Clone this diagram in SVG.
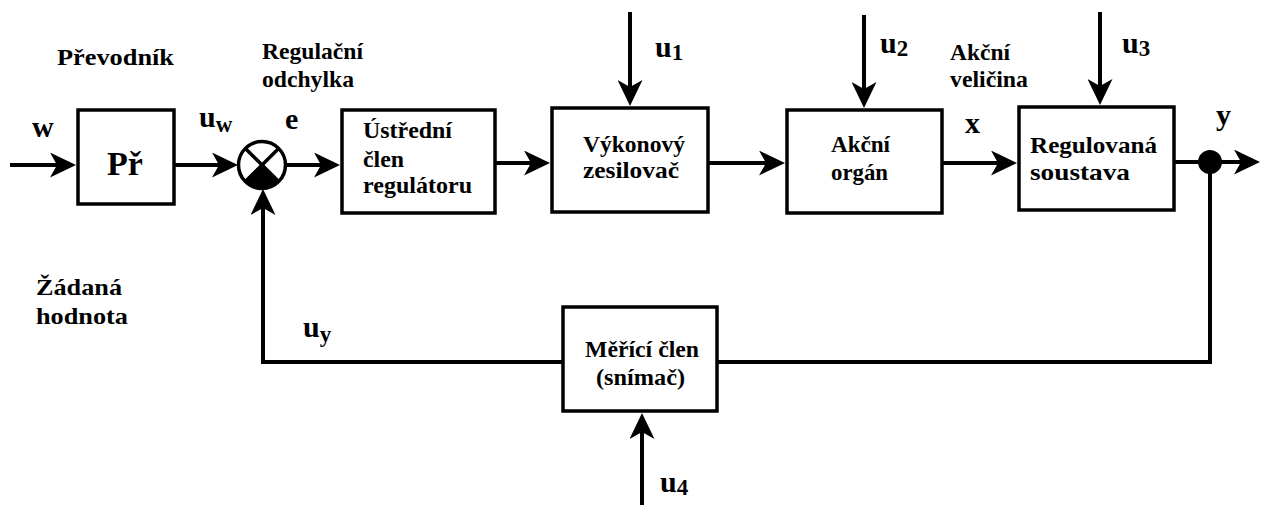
<svg xmlns="http://www.w3.org/2000/svg" width="1262" height="505" viewBox="0 0 1262 505">
<style>
.box{fill:#fff;stroke:#000;stroke-width:3.5}
.ln{fill:none;stroke:#000;stroke-width:4}
.arr{marker-end:url(#ah)}
text{font-family:"Liberation Serif","Times New Roman",serif;font-weight:bold;fill:#000}
.t{font-size:24px}
.big{font-size:30px}
.sub{font-size:23px}
</style>
<defs>
<marker id="ah" markerUnits="userSpaceOnUse" viewBox="0 0 26 25" markerWidth="26" markerHeight="25" refX="12" refY="12.5" orient="auto">
<path d="M0,0 L26,12.5 L0,25 L7,12.5 Z" fill="#000"/>
</marker>
</defs>
<rect width="1262" height="505" fill="#fff"/>
<g id="connectors">
<path class="ln arr" d="M10,165 H62"/>
<path class="ln arr" d="M174,165 H224"/>
<path class="ln arr" d="M287,165 H326"/>
<path class="ln arr" d="M495,163 H536"/>
<path class="ln arr" d="M708,163 H771"/>
<path class="ln arr" d="M942,163 H1003"/>
<path class="ln arr" d="M1174,162 H1246"/>
<path class="ln arr" d="M630,12 V92"/>
<path class="ln arr" d="M864,15 V94"/>
<path class="ln arr" d="M1100,12 V91"/>
<path class="ln arr" d="M642,505 V427"/>
<path class="ln" d="M1210,162 V362 H717"/>
<path class="ln arr" d="M563,362 H263 V203"/>
<circle cx="1210" cy="162" r="12" fill="#000"/>
</g>
<g id="prevodnik">
<rect class="box" x="78" y="110" width="96" height="94"/>
<text x="107" y="175" style="font-size:34px">Př</text>
</g>
<g id="soucet">
<circle cx="262" cy="165" r="23.5" fill="#fff" stroke="#000" stroke-width="3.5"/>
<path d="M262,165 L278.6,181.6 A23.5,23.5 0 0 1 245.4,181.6 Z" fill="#000"/>
<path d="M245.4,148.4 L278.6,181.6 M278.6,148.4 L245.4,181.6" stroke="#000" stroke-width="3.5"/>
</g>
<g id="ustredni">
<rect class="box" x="342" y="110" width="153" height="103"/>
<text class="t" x="363" y="138" textLength="89" lengthAdjust="spacingAndGlyphs">Ústřední</text>
<text class="t" x="363" y="167" textLength="41" lengthAdjust="spacingAndGlyphs">člen</text>
<text class="t" x="363" y="193" textLength="109" lengthAdjust="spacingAndGlyphs">regulátoru</text>
</g>
<g id="vykonovy">
<rect class="box" x="552" y="108" width="156" height="104"/>
<text class="t" x="583" y="152" textLength="102" lengthAdjust="spacingAndGlyphs">Výkonový</text>
<text class="t" x="583" y="178" textLength="96" lengthAdjust="spacingAndGlyphs">zesilovač</text>
</g>
<g id="akcni">
<rect class="box" x="787" y="110" width="155" height="103"/>
<text class="t" x="831" y="152" textLength="59" lengthAdjust="spacingAndGlyphs">Akční</text>
<text class="t" x="831" y="180" textLength="57" lengthAdjust="spacingAndGlyphs">orgán</text>
</g>
<g id="regulovana">
<rect class="box" x="1019" y="107" width="155" height="103"/>
<text class="t" x="1030" y="153" textLength="127" lengthAdjust="spacingAndGlyphs">Regulovaná</text>
<text class="t" x="1030" y="180" textLength="100" lengthAdjust="spacingAndGlyphs">soustava</text>
</g>
<g id="merici">
<rect class="box" x="563" y="307" width="154" height="104"/>
<text class="t" x="585" y="357" textLength="114" lengthAdjust="spacingAndGlyphs">Měřící člen</text>
<text class="t" x="596" y="385" textLength="89" lengthAdjust="spacingAndGlyphs">(snímač)</text>
</g>
<g id="labels">
<text class="t" x="57" y="65" textLength="117" lengthAdjust="spacingAndGlyphs">Převodník</text>
<text class="t" x="262" y="59" textLength="101" lengthAdjust="spacingAndGlyphs">Regulační</text>
<text class="t" x="262" y="87" textLength="92" lengthAdjust="spacingAndGlyphs">odchylka</text>
<text class="t" x="950" y="60" textLength="60" lengthAdjust="spacingAndGlyphs">Akční</text>
<text class="t" x="950" y="87" textLength="78" lengthAdjust="spacingAndGlyphs">veličina</text>
<text class="t" x="36" y="295" textLength="86" lengthAdjust="spacingAndGlyphs">Žádaná</text>
<text class="t" x="36" y="324" textLength="92" lengthAdjust="spacingAndGlyphs">hodnota</text>
<text class="big" x="32" y="137">w</text>
<text class="big" x="199" y="127">u<tspan class="sub" dy="5">w</tspan></text>
<text class="big" x="285" y="129">e</text>
<text class="big" x="655" y="57">u<tspan class="sub" dy="3">1</tspan></text>
<text class="big" x="880" y="53">u<tspan class="sub" dy="3">2</tspan></text>
<text class="big" x="1122" y="53">u<tspan class="sub" dy="3">3</tspan></text>
<text class="big" x="660" y="492">u<tspan class="sub" dy="3">4</tspan></text>
<text class="big" x="303" y="337">u<tspan class="sub" dy="5">y</tspan></text>
<text class="big" x="965" y="133">x</text>
<text class="big" x="1216" y="125">y</text>
</g>
</svg>
